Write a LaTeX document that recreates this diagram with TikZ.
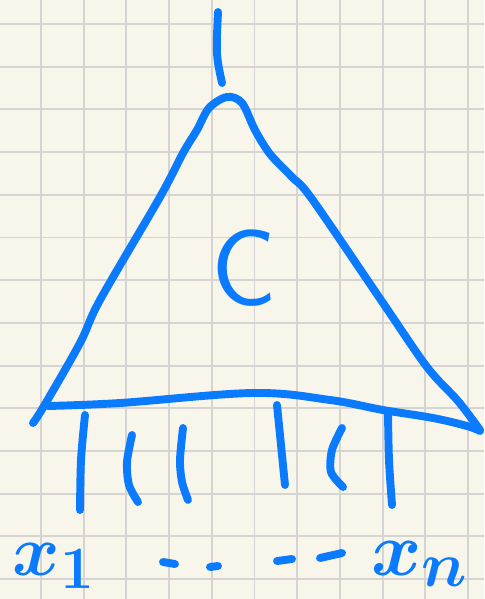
\documentclass[tikz,border=0pt]{standalone}
\usepackage{tikz}
\usepackage{graphicx}
\usetikzlibrary{positioning}
\definecolor{paperbg}{HTML}{F8F6EA}
\definecolor{gridgray}{HTML}{D4D4D2}
\definecolor{penblue}{RGB}{10,122,255}
\tikzset{
  pen/.style={line width=4.5pt, draw=penblue, line cap=round, line join=round},
  gridline/.style={line width=1.1pt, draw=gridgray},
  hand/.style={text=penblue, inner sep=0pt}
}

\begin{document}
\begin{tikzpicture}[x=0.02cm, y=-0.02cm]
  % Paper and grid
  \fill[paperbg] (0,0) rectangle (484,599);
  \useasboundingbox (0,0) rectangle (484,599);
  \foreach \i in {0,...,10}
    \draw[gridline] ({41+42.7*\i},0) -- ({41+42.7*\i},599);
  \foreach \j in {0,...,13}
    \draw[gridline] (0,{24+42.7*\j}) -- (484,{24+42.7*\j});

  % Output wire on top
  \coordinate (out) at (218,12);
  \coordinate (top) at (222,83);
  \draw[pen] (out) .. controls (216,55) .. (top);

  % Triangle: left and right sides
  \draw[pen] plot[smooth, tension=0.55] coordinates {(33,423) (44,406) (80,343) (100,300)
    (160,197) (183,153) (197,130) (209,108) (227,97) (242,103) (255,130) (270,154)
    (292,177) (312,199) (383,303) (427,367) (458,401) (480,430)};
  % Triangle: base
  \draw[pen] plot[smooth, tension=0.6] coordinates {(48,406) (120,403) (253,393)
    (330,400) (383,410) (433,418) (467,426) (480,431)};

  % Label inside
  \node[hand, font=\sffamily\fontsize{62}{64}\selectfont] (C) at (244,268) {C};

  % Inputs
  \draw[pen] plot[smooth] coordinates {(85,415) (81,460) (80,510)};
  \draw[pen] plot[smooth] coordinates {(132,435) (127,462) (129,485) (138,502)};
  \draw[pen] plot[smooth] coordinates {(183,428) (180,460) (182,482) (188,500)};
  \draw[pen] plot[smooth] coordinates {(277,405) (281,445) (285,485)};
  \draw[pen] plot[smooth] coordinates {(342,428) (332,450) (331,472) (343,487)};
  \draw[pen] plot[smooth] coordinates {(388,413) (389,460) (392,505)};

  % Input names
  \node[hand, font=\Huge\boldmath] (x1) at (54,566) {\scalebox{1.65}{$x_1$}};
  \node[hand, font=\Huge\boldmath] (xn) at (420,564) {\scalebox{1.75}{$x_n$}};

  % Dots between the inputs
  \draw[pen] (163,562) -- (175,564);
  \draw[pen] (210,567) -- (218,566);
  \draw[pen] (277,561) -- (292,559);
  \draw[pen] (320,558) -- (342,553);
\end{tikzpicture}
\end{document}
